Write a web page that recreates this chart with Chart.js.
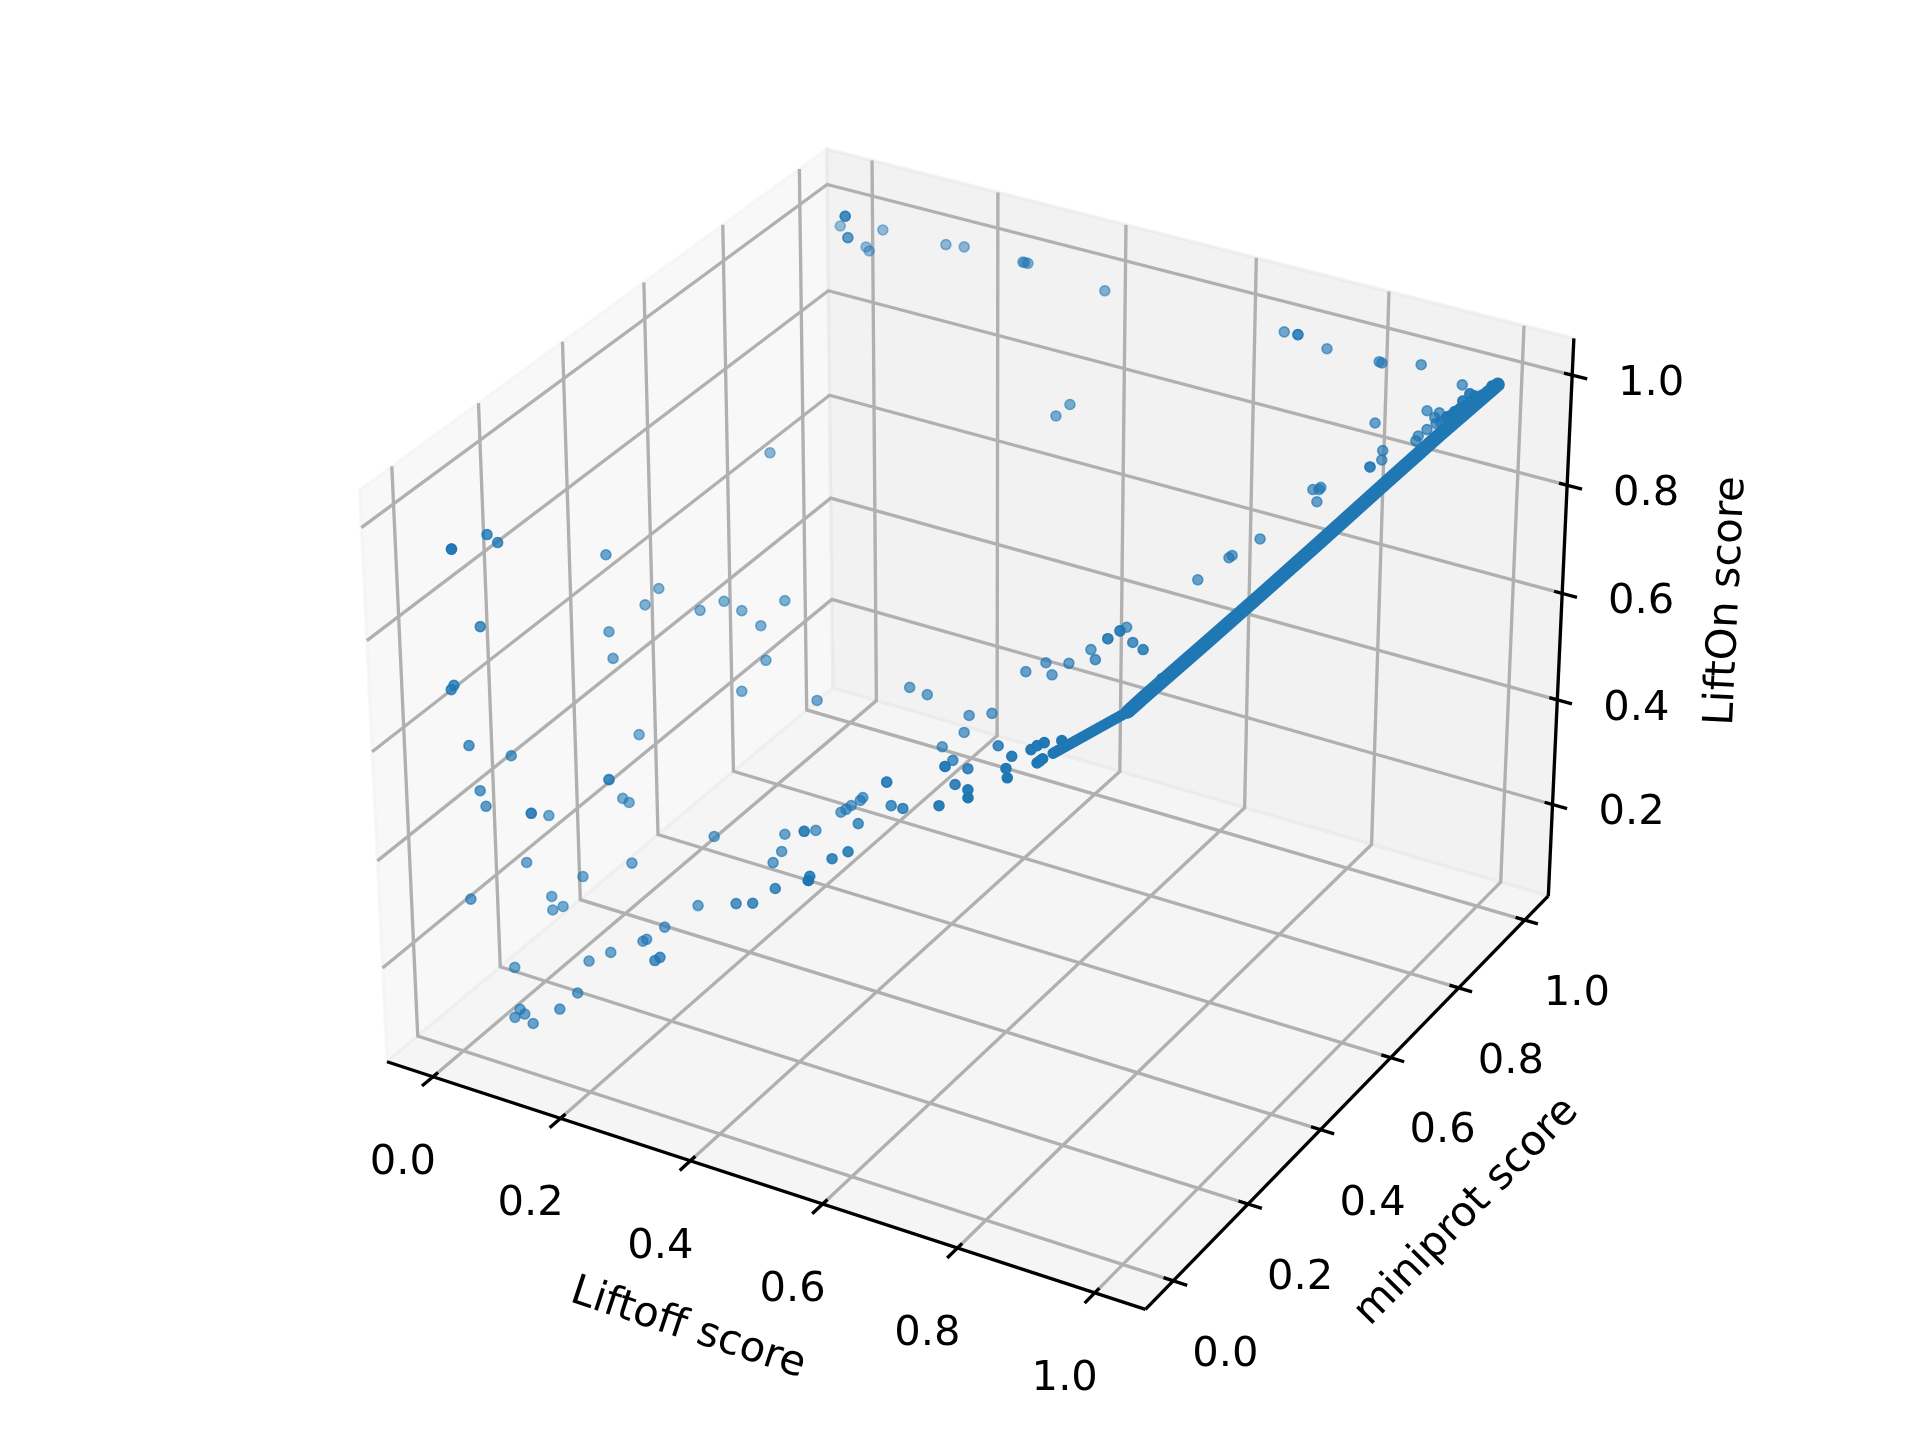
<!DOCTYPE html>
<html>
<head>
<meta charset="utf-8">
<title>LiftOn score</title>
<script src="https://cdn.jsdelivr.net/npm/chart.js@4"></script>
<style>
  html, body { margin: 0; background: #fff; }
  canvas { display: block; }
</style>
</head>
<body>
<canvas id="scores" width="1920" height="1440"></canvas>
<script>
/* Per-gene scores: Liftoff, miniprot, LiftOn */
const liftoff = [0,0,0,.001,.019,.019,.051,.056,.063,.163,.189,.281,.284,.289,.414,.421,.434,.685,.703,.703,.752,.83,.834,.887,.953,.92,.938,
  .934,.941,.933,.923,.932,.859,.884,.888,.876,.876,.813,.822,.822,.827,.77,.742,.74,.967,.977,.962,.958,.952,.957,.976,.963,.99,.994,
  0,0,.001,0,.002,0,0,.046,.075,.103,.159,.139,.002,0,.002,.168,.154,.266,.043,.002,.001,.001,.002,.037,.026,.026,.057,
  .067,.002,0,0,0,.001,0,.108,.207,.049,.001,.018,.039,.029,.302,.326,.326,.341,.309,.314,.524,.521,.531,.531,.438,.356,.419,
  .227,.193,.177,.171,.136,.111,.301,.293,.012,.138,.139,.059,.073,.064,.096,.383,.413,.483,.512,.484,.465,.557,.554,.554,.649,.662,.759,
  .785,.824,.668,.736,.768,.697,.409,.409,.387,.383,.375,.37,.365,.52,.576,.47,.554,.532,.554,.569,.586,.608,.659,.625,.625,.728,.795,
  .635,.635,.645,.71,.974,.987,.798,.804,.817,.87,.869,.873,.874,
  .967,.977,.962,.958,.952,.957,.976,.963,.99,.994,
  .995,.99,.985,.98,.975,.97,.965,.96,.955,.95,.945];
const miniprot = [1,1,1,.985,.975,.975,.97,.97,.995,.995,1,1,1,1,.99,.845,.86,.995,1,1,.99,.99,.99,1,.99,.955,.955,
  .95,.94,.93,.925,.9,.925,.9,.89,.88,.88,.84,.845,.84,.825,.775,.75,.745,.985,.98,.975,.96,.95,.955,.96,.965,.975,.995,
  .02,.02,.1,.125,.375,.505,.47,.535,.55,.55,.57,.54,.075,.38,.385,.505,.465,.475,.725,.01,.005,.04,.135,.39,.33,.33,.315,
  .315,.06,.075,.18,.18,.22,.165,.255,.305,.225,.03,.195,.19,.18,.33,.34,.34,.345,.31,.28,.085,.035,.015,.015,.085,.12,.06,
  .23,.2,.18,.18,.155,.14,.02,.02,.11,.07,.025,.05,.04,.03,.025,.52,.515,.505,.515,.49,.465,.335,.32,.32,.215,.27,.135,
  .075,.01,.15,.065,.01,.06,.415,.415,.39,.39,.38,.375,.37,.24,.175,.24,.075,.57,.585,.575,.59,.61,.53,.625,.625,.505,.41,
  .64,.64,.64,.715,.13,.165,.115,.12,.115,.065,.005,.005,.01,
  .985,.98,.975,.96,.95,.955,.96,.965,.975,.995,
  .995,.99,.985,.98,.975,.97,.965,.96,.955,.95,.945];
const lifton = [1,1,1,.99,.979,.979,.974,.968,.996,.999,1,1,1,1,.993,.844,.861,.999,.997,.997,.992,.993,.992,1,.99,.952,.954,
  .947,.944,.936,.924,.932,.927,.899,.889,.878,.878,.839,.843,.842,.83,.772,.747,.745,.981,.983,.972,.96,.954,.956,.976,.964,.99,.998,
  .933,.933,.913,.884,.718,.579,.569,.536,.554,.546,.572,.536,.763,.572,.52,.502,.463,.479,.721,.696,.691,.568,.491,.386,.334,.334,.319,
  .315,.473,.434,.355,.355,.326,.272,.253,.308,.225,.29,.195,.187,.183,.331,.339,.339,.343,.314,.314,.523,.522,.531,.531,.437,.356,.419,
  .233,.199,.183,.177,.159,.143,.301,.292,.113,.139,.139,.091,.094,.091,.095,.517,.517,.509,.517,.487,.469,.557,.554,.554,.649,.661,.76,
  .785,.823,.668,.736,.768,.697,.414,.414,.393,.386,.38,.374,.37,.52,.576,.469,.553,.568,.583,.572,.59,.611,.658,.628,.628,.728,.795,
  .637,.637,.647,.712,.974,.987,.798,.804,.817,.87,.868,.873,.874,
  .981,.983,.972,.96,.954,.956,.976,.964,.99,.998,
  .995,.99,.985,.98,.975,.97,.965,.96,.955,.95,.945];

/* The dense run of genes, read as a path from the top corner down to the bend and tail */
const trackLiftoff = [1,.952,.902,.854,.803,.752,.706,.692,.616];
const trackMiniprot = [1,.93,.86,.785,.715,.645,.58,.56,.495];
const trackLifton = [1,.933,.86,.789,.715,.642,.577,.556,.492];
const TAIL_START = 7;

const xTicks = [0, 0.2, 0.4, 0.6, 0.8, 1];
const yTicks = [0, 0.2, 0.4, 0.6, 0.8, 1];
const zTicks = [0.2, 0.4, 0.6, 0.8, 1];

/* Box limits and camera for the 3D view */
const xLim = [-0.0729, 1.0729];
const yLim = [-0.0729, 1.0729];
const zLim = [0.0225, 1.066];
const ELEV = 30 * Math.PI / 180;
const AZIM = -60 * Math.PI / 180;
const DIST = 10;
const boxScale = 1.8294640721620434 * 25 / 24 / Math.sqrt(41);
const boxX = 4 * boxScale, boxZ = 3 * boxScale;

const camW = [Math.cos(ELEV) * Math.cos(AZIM), Math.cos(ELEV) * Math.sin(AZIM), Math.sin(ELEV)];
const camLen = Math.hypot(camW[0], camW[1]);
const camU = [-camW[1] / camLen, camW[0] / camLen, 0];
const camV = [
  camW[1] * camU[2] - camW[2] * camU[1],
  camW[2] * camU[0] - camW[0] * camU[2],
  camW[0] * camU[1] - camW[1] * camU[0]
];

function toBox(x, y, z) {
  return [
    ((x - xLim[0]) / (xLim[1] - xLim[0]) - 0.5) * boxX,
    ((y - yLim[0]) / (yLim[1] - yLim[0]) - 0.5) * boxX,
    ((z - zLim[0]) / (zLim[1] - zLim[0]) - 0.5) * boxZ
  ];
}
const dot = (a, b) => a[0] * b[0] + a[1] * b[1] + a[2] * b[2];

// perspective projection onto the view plane
function project(x, y, z) {
  const p = toBox(x, y, z);
  const d = DIST - dot(camW, p);
  return { x: dot(camU, p) / d, y: dot(camV, p) / d };
}

/* view-plane window shown by the hidden scales */
const PLANE_SCALE = 7298, PLANE_CX = 978.4, PLANE_CY = 701.3;

// nearer points are drawn more opaque, as in depth-shaded 3D scatters
const BLUE = '31,119,180';
const depth = liftoff.map((x, i) => dot(camW, toBox(x, miniprot[i], lifton[i])));
const depthMin = Math.min(...depth), depthMax = Math.max(...depth);
const pointAlpha = depth.map(d => Math.min(1, 0.45 + 0.6 * (d - depthMin) / (depthMax - depthMin)));

const FONT = "41.67px 'DejaVu Sans'";

/* panes, grid, axes and text of the box */
const box3d = {
  id: 'box3d',
  beforeDatasetsDraw(chart) {
    const { ctx, scales } = chart;
    const px = (x, y, z) => {
      const p = project(x, y, z);
      return [scales.x.getPixelForValue(p.x), scales.y.getPixelForValue(p.y)];
    };
    const path = (pts) => {
      ctx.beginPath();
      pts.forEach((p, i) => i ? ctx.lineTo(p[0], p[1]) : ctx.moveTo(p[0], p[1]));
    };
    const [x0, x1] = xLim, [y0, y1] = yLim, [z0, z1] = zLim;

    ctx.save();
    ctx.lineWidth = 3.33;
    ctx.lineJoin = 'miter';
    ctx.lineCap = 'butt';

    const panes = [
      { c: 'rgba(242,242,242,0.5)', pts: [px(x0,y0,z0), px(x0,y1,z0), px(x0,y1,z1), px(x0,y0,z1)] },
      { c: 'rgba(230,230,230,0.5)', pts: [px(x0,y1,z0), px(x1,y1,z0), px(x1,y1,z1), px(x0,y1,z1)] },
      { c: 'rgba(236,236,236,0.5)', pts: [px(x0,y0,z0), px(x1,y0,z0), px(x1,y1,z0), px(x0,y1,z0)] }
    ];
    panes.forEach(p => {
      path(p.pts);
      ctx.closePath();
      ctx.fillStyle = p.c;
      ctx.strokeStyle = p.c;
      ctx.fill();
      ctx.stroke();
    });

    ctx.strokeStyle = '#b0b0b0';
    xTicks.forEach(t => { path([px(t,y0,z0), px(t,y1,z0), px(t,y1,z1)]); ctx.stroke(); });
    yTicks.forEach(t => { path([px(x1,t,z0), px(x0,t,z0), px(x0,t,z1)]); ctx.stroke(); });
    zTicks.forEach(t => { path([px(x0,y0,t), px(x0,y1,t), px(x1,y1,t)]); ctx.stroke(); });

    ctx.strokeStyle = '#000';
    path([px(x0,y0,z0), px(x1,y0,z0)]); ctx.stroke();
    path([px(x1,y0,z0), px(x1,y1,z0)]); ctx.stroke();
    path([px(x1,y1,z0), px(x1,y1,z1)]); ctx.stroke();

    xTicks.forEach(t => { path([px(t,y0+0.012,z0), px(t,y0-0.026,z0)]); ctx.stroke(); });
    yTicks.forEach(t => { path([px(x1-0.014,t,z0), px(x1+0.02,t,z0)]); ctx.stroke(); });
    zTicks.forEach(t => { path([px(x1-0.012,y1,t), px(x1+0.022,y1,t)]); ctx.stroke(); });

    ctx.fillStyle = '#000';
    ctx.font = FONT;
    ctx.textAlign = 'center';
    ctx.textBaseline = 'middle';
    xTicks.forEach(t => { const p = px(t,y0,z0); ctx.fillText(t.toFixed(1), p[0] - 30, p[1] + 86); });
    yTicks.forEach(t => { const p = px(x1,t,z0); ctx.fillText(t.toFixed(1), p[0] + 52, p[1] + 74); });
    zTicks.forEach(t => { const p = px(x1,y1,t); ctx.fillText(t.toFixed(1), p[0] + 79, p[1] + 9); });

    const axisLabel = (text, x, y, deg) => {
      ctx.save();
      ctx.translate(x, y);
      ctx.rotate(deg * Math.PI / 180);
      ctx.fillText(text, 0, 0);
      ctx.restore();
    };
    axisLabel('Liftoff score', 688, 1329, 18.2);
    axisLabel('miniprot score', 1467, 1212, -45.6);
    axisLabel('LiftOn score', 1727, 601, -87.3);
    ctx.restore();
  }
};

new Chart(document.getElementById('scores'), {
  type: 'scatter',
  data: {
    datasets: [
      {
        label: 'track',
        data: trackLiftoff.map((x, i) => project(x, trackMiniprot[i], trackLifton[i])),
        showLine: true,
        borderColor: `rgb(${BLUE})`,
        borderWidth: 14,
        borderCapStyle: 'round',
        borderJoinStyle: 'round',
        pointRadius: 0,
        tension: 0,
        segment: { borderWidth: ctx => ctx.p0DataIndex >= TAIL_START ? 11 : 14 }
      },
      {
        label: 'genes',
        data: liftoff.map((x, i) => project(x, miniprot[i], lifton[i])),
        pointRadius: 5,
        pointBorderWidth: 1.6,
        pointBackgroundColor: pointAlpha.map(a => `rgba(${BLUE},${a.toFixed(2)})`),
        pointBorderColor: pointAlpha.map(a => `rgba(${BLUE},${a.toFixed(2)})`)
      }
    ]
  },
  options: {
    responsive: false,
    animation: false,
    devicePixelRatio: 1,
    layout: { padding: 0, autoPadding: false },
    plugins: { legend: { display: false }, tooltip: { enabled: false } },
    scales: {
      x: { type: 'linear', display: false, min: -PLANE_CX / PLANE_SCALE, max: (1920 - PLANE_CX) / PLANE_SCALE },
      y: { type: 'linear', display: false, min: (PLANE_CY - 1440) / PLANE_SCALE, max: PLANE_CY / PLANE_SCALE }
    }
  },
  plugins: [box3d]
});
</script>
</body>
</html>
